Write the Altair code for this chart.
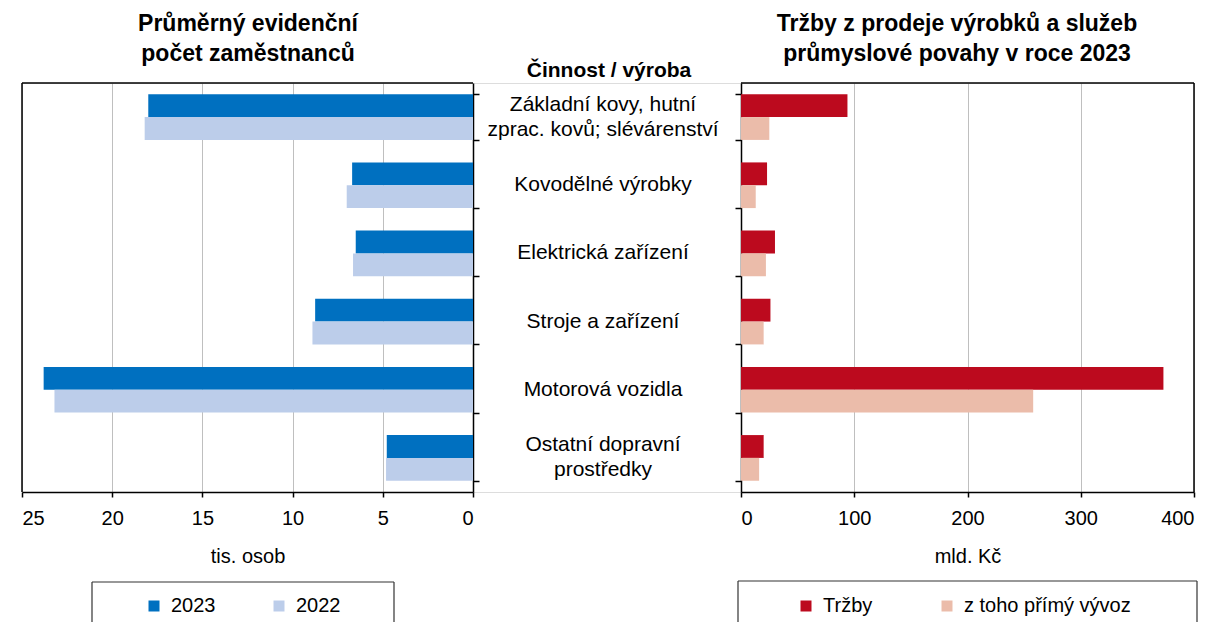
import altair as alt
import pandas as pd

categories = [
    "Základní kovy, hutní|zprac. kovů; slévárenství",
    "Kovodělné výrobky",
    "Elektrická zařízení",
    "Stroje a zařízení",
    "Motorová vozidla",
    "Ostatní dopravní|prostředky",
]
years = ["2023", "2022"]
emp_2023 = [18.0, 6.7, 6.5, 8.75, 23.8, 4.78]
emp_2022 = [18.2, 7.0, 6.65, 8.9, 23.2, 4.82]

series = ["Tržby", "z toho přímý vývoz"]
sales = [94, 23, 30, 26, 373, 20]
export = [25, 13, 22, 20, 258, 16]

left_ticks = [0, 5, 10, 15, 20, 25]
right_ticks = [0, 100, 200, 300, 400]

left_title = "Průměrný evidenční\npočet zaměstnanců"
right_title = "Tržby z prodeje výrobků a služeb\nprůmyslové povahy v roce 2023"
mid_title = "Činnost / výroba"

FONT = "Liberation Sans"
W, H = 1172, 409
L_END = 451
R_START = 719

df_left = pd.DataFrame(
    [{"cat": c, "year": "2023", "value": v} for c, v in zip(categories, emp_2023)]
    + [{"cat": c, "year": "2022", "value": v} for c, v in zip(categories, emp_2022)]
)
df_right = pd.DataFrame(
    [{"cat": c, "series": series[0], "value": v} for c, v in zip(categories, sales)]
    + [{"cat": c, "series": series[1], "value": v} for c, v in zip(categories, export)]
)
df_cat1 = pd.DataFrame({"cat": [c for c in categories if "|" not in c]})
df_cat2 = pd.DataFrame({"cat": [c for c in categories if "|" in c]})


def yscale():
    return alt.Scale(domain=categories, paddingInner=0.33, paddingOuter=0.165)


common_x_axis = dict(
    orient="bottom",
    labelFont=FONT, labelFontSize=20, labelColor="black", labelPadding=11,
    titleFont=FONT, titleFontSize=20, titleFontWeight="normal", titleColor="black",
    titlePadding=18,
    tickSize=5, tickColor="black", tickWidth=1.5,
    domainColor="black", domainWidth=1.5,
    grid=True, gridColor="#BFBFBF", gridWidth=1,
)

legend_common = dict(
    orient="none", legendY=513, direction="horizontal", title=None,
    symbolType="square", symbolSize=121, symbolStrokeWidth=0,
    labelFont=FONT, labelFontSize=20, labelColor="black", labelLimit=400,
    labelOffset=7,
)

left_bars = alt.Chart(df_left).mark_bar().encode(
    y=alt.Y("cat:N", scale=yscale(),
            axis=alt.Axis(orient="right", offset=-(W - L_END), labels=False, title=None,
                          tickBand="extent", tickSize=6, tickColor="black", tickWidth=1.5,
                          domainColor="black", domainWidth=1.5, grid=False)),
    x=alt.X("value:Q", scale=alt.Scale(domain=[0, 25], range=[L_END, 0], nice=False),
            axis=alt.Axis(values=left_ticks, title="tis. osob", **common_x_axis)),
    yOffset=alt.YOffset("year:N", sort=years),
    color=alt.Color("year:N", scale=alt.Scale(domain=years, range=["#0070C0", "#BCCDEA"]),
                    legend=alt.Legend(legendX=122, columnPadding=53, **legend_common)),
)

right_bars = alt.Chart(df_right).mark_bar().encode(
    y=alt.Y("cat:N", scale=yscale(),
            axis=alt.Axis(orient="left", offset=-R_START, title=None, labels=False,
                          tickBand="extent", tickSize=6, tickColor="black", tickWidth=1.5,
                          domainColor="black", domainWidth=1.5, grid=False)),
    x=alt.X("value:Q", scale=alt.Scale(domain=[0, 400], range=[R_START, W], nice=False),
            axis=alt.Axis(values=right_ticks, title="mld. Kč", **common_x_axis)),
    yOffset=alt.YOffset("series:N", sort=series),
    color=alt.Color("series:N", scale=alt.Scale(domain=series, range=["#BC0A1E", "#EBBCAA"]),
                    legend=alt.Legend(legendX=774, columnPadding=64, **legend_common)),
)


def cat_labels(df, dy):
    return alt.Chart(df).mark_text(
        font=FONT, fontSize=21, color="black", align="center", baseline="middle",
        lineBreak="|", lineHeight=25, dy=dy,
    ).encode(
        y=alt.Y("cat:N", scale=yscale(), axis=None),
        x=alt.value(581),
        text="cat:N",
    )


one = pd.DataFrame({"a": [0]})


def rule(x, x2, y, y2, color="black", width=1.5):
    return alt.Chart(one).mark_rule(color=color, strokeWidth=width).encode(
        x=alt.value(x), x2=alt.value(x2), y=alt.value(y), y2=alt.value(y2))


frames = [
    rule(0, 0, 0, H),            # left frame left side
    rule(0, L_END, 0, 0),        # left frame top
    rule(R_START, W, 0, 0),      # right frame top
    rule(W, W, 0, H),            # right frame right side
    # legend boxes
    rule(70, 372, 499, 499, "#333333", 1.2),
    rule(70, 70, 499, 540, "#333333", 1.2),
    rule(372, 372, 499, 540, "#333333", 1.2),
    rule(716, 1175, 498, 498, "#333333", 1.2),
    rule(716, 716, 498, 540, "#333333", 1.2),
    rule(1175, 1175, 498, 540, "#333333", 1.2),
]


def label(txt, x, y, size, weight="bold", lh=30):
    return alt.Chart(pd.DataFrame({"t": [txt]})).mark_text(
        font=FONT, fontSize=size, fontWeight=weight, color="black",
        align="center", baseline="alphabetic", lineBreak="\n", lineHeight=lh,
    ).encode(text="t:N", x=alt.value(x), y=alt.value(y))


titles = [
    label(left_title, 226, -52, 23),
    label(right_title, 935, -52, 23),
    label(mid_title, 587, -6, 21),
]

chart = alt.layer(
    left_bars, right_bars, cat_labels(df_cat1, 0), cat_labels(df_cat2, -12.5),
    *frames, *titles
).resolve_scale(
    x="independent", y="independent", color="independent", yOffset="independent"
).resolve_axis(x="independent", y="independent").resolve_legend(
    color="independent"
).properties(
    width=W, height=H,
    autosize=alt.AutoSizeParams(type="none"),
    padding={"left": 14, "top": 75, "right": 10, "bottom": 130},
).configure_view(stroke=None).configure(font=FONT)

chart.save("out.html", embed_options={"renderer": "svg", "actions": False})
